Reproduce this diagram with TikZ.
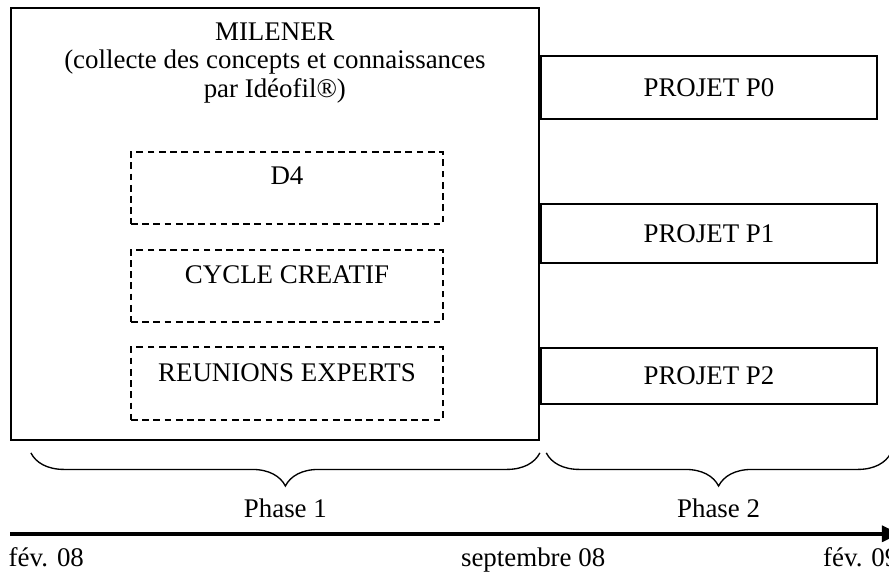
\documentclass[tikz,border=0pt]{standalone}
\usepackage{fontspec}
\setmainfont{Liberation Serif}
\usetikzlibrary{positioning,decorations.pathreplacing,arrows.meta}

\begin{document}
\begin{tikzpicture}[
  font=\fontsize{12}{14.5}\selectfont,
  mainbox/.style={draw, line width=0.9pt, minimum width=8.28cm,
                  minimum height=6.77cm, inner sep=0pt},
  subbox/.style={draw, dash pattern=on 3pt off 2pt, line width=0.9pt,
                 minimum width=4.89cm, minimum height=1.13cm, inner sep=0pt},
  projbox/.style={draw, line width=0.9pt, minimum width=5.27cm,
                  minimum height=0.93cm},
  toplabel/.style={anchor=north, inner sep=0pt, align=center},
  brace/.style={decorate, decoration={brace, mirror, amplitude=0.52cm},
                line width=0.6pt},
  phase/.style={below=0.59cm},
  date/.style={inner sep=0pt, anchor=base},
  timeline/.style={line width=1.8pt, -{Triangle[length=8pt,width=7pt]}}
]
  \useasboundingbox (0,0) rectangle (13.94,-9.0);

  % phase 1
  \node[mainbox, label={[toplabel, yshift=-0.25cm, font=\fontsize{12}{12.5}\selectfont]north:{MILENER\\(collecte des concepts et connaissances\\par Idéofil®)}}] (milener) at (4.31,-3.51) {};
  \node[subbox, label={[toplabel, yshift=-0.24cm]north:D4}] (d4) at (4.50,-2.95) {};
  \node[subbox, below=0.37cm of d4, label={[toplabel, yshift=-0.26cm]north:CYCLE CREATIF}] (cycle) {};
  \node[subbox, below=0.37cm of cycle, label={[toplabel, yshift=-0.26cm]north:REUNIONS EXPERTS}] (experts) {};

  % phase 2
  \node[projbox, minimum height=0.99cm, anchor=north west] (p0) at ([yshift=-0.75cm]milener.north east) {PROJET P0};
  \node[projbox, below=1.3cm of p0] (p1) {PROJET P1};
  \node[projbox, minimum height=0.88cm, below=1.3cm of p1] (p2) {PROJET P2};

  % braces
  \coordinate (b1s) at ([xshift=0.33cm, yshift=-0.19cm]milener.south west);
  \coordinate (b1e) at ([yshift=-0.19cm]milener.south east);
  \coordinate (b2s) at ([xshift=0.1cm]b1e);
  \coordinate (b2e) at (13.97,0 |- b1e);
  \draw[brace] (b1s) -- node[phase] (ph1) {Phase 1} (b1e);
  \draw[brace] (b2s) -- node[phase] (ph2) {Phase 2} (b2e);

  % time axis
  \coordinate (t0) at (0.16,-8.37);
  \coordinate (t1) at (14.11,-8.37);
  \draw[timeline] (t0) -- (t1);
  \node[date, anchor=base west] (feb08) at (0.13,-8.89) {fév. 08};
  \node[date] (sep08) at (8.36,-8.89) {septembre 08};
  \node[date, anchor=base west] (feb09) at (12.90,-8.89) {fév. 09};
\end{tikzpicture}
\end{document}
